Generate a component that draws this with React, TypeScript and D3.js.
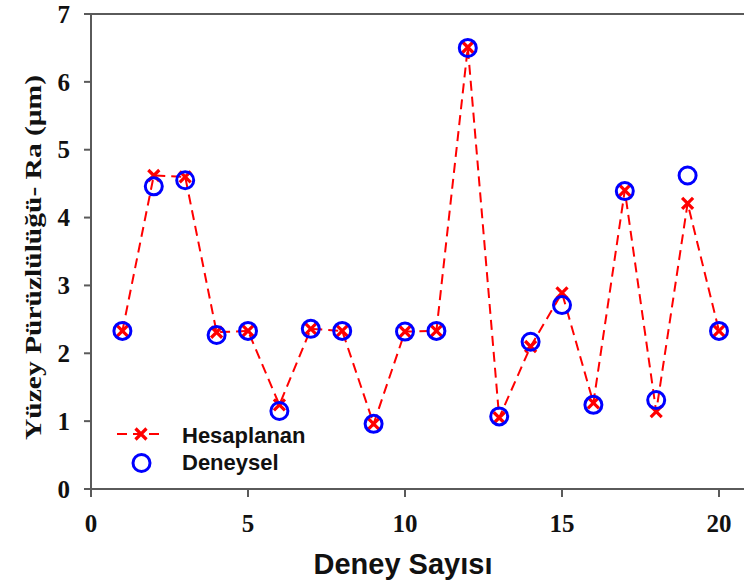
import React from "react";
import * as d3 from "d3";

// deney numaraları ve ölçülen / hesaplanan Ra değerleri
const deneyNo = [1, 2, 3, 4, 5, 6, 7, 8, 9, 10, 11, 12, 13, 14, 15, 16, 17, 18, 19, 20];
const hesaplanan = [2.33, 4.62, 4.6, 2.31, 2.33, 1.24, 2.36, 2.33, 0.96, 2.32, 2.33, 6.51, 1.05, 2.1, 2.89, 1.27, 4.4, 1.14, 4.21, 2.33];
const deneysel = [2.33, 4.46, 4.55, 2.27, 2.33, 1.15, 2.36, 2.33, 0.96, 2.32, 2.33, 6.5, 1.07, 2.17, 2.71, 1.24, 4.39, 1.31, 4.62, 2.33];
const xTicks = [0, 5, 10, 15, 20];
const yTicks = [0, 1, 2, 3, 4, 5, 6, 7];

const W = 744;
const H = 586;
const margin = { left: 91, top: 14, bottom: 489 };

const axisColor = "#5a5a5a";
const serif = "'Liberation Serif', 'Times New Roman', serif";
const sans = "'Liberation Sans', Arial, sans-serif";

const App: React.FC = () => {
  const x = d3.scaleLinear().domain([0, 20]).range([margin.left, 719]);
  const y = d3.scaleLinear().domain([0, 7]).range([margin.bottom, margin.top]);

  const line = d3
    .line<number>()
    .x((_, i) => x(deneyNo[i]))
    .y((d) => y(d));

  const cross = (cx: number, cy: number, s: number, key: string | number) => (
    <path
      key={key}
      d={`M${cx - s},${cy - s}L${cx + s},${cy + s}M${cx - s},${cy + s}L${cx + s},${cy - s}`}
      stroke="#ff0000"
      strokeWidth={3.2}
      fill="none"
    />
  );

  return (
    <svg
      width={W}
      height={H}
      style={{ position: "absolute", left: 0, top: 0, background: "#fff" }}
    >
      {/* eksenler */}
      <line x1={margin.left} x2={W} y1={margin.top} y2={margin.top} stroke={axisColor} strokeWidth={2} />
      <line x1={margin.left} x2={W} y1={margin.bottom} y2={margin.bottom} stroke={axisColor} strokeWidth={2} />
      <line x1={margin.left} x2={margin.left} y1={margin.top} y2={margin.bottom} stroke={axisColor} strokeWidth={2} />

      {yTicks.map((t) => (
        <g key={"y" + t}>
          <line x1={margin.left - 7} x2={margin.left} y1={y(t)} y2={y(t)} stroke={axisColor} strokeWidth={2} />
          <text
            x={margin.left - 21}
            y={y(t)}
            dy="0.35em"
            textAnchor="end"
            fontFamily={serif}
            fontWeight="bold"
            fontSize={25}
            fill="#111"
          >
            {t}
          </text>
        </g>
      ))}

      {xTicks.map((t) => (
        <g key={"x" + t}>
          <line x1={x(t)} x2={x(t)} y1={margin.bottom} y2={margin.bottom + 8} stroke={axisColor} strokeWidth={2} />
          <text
            x={x(t)}
            y={532}
            textAnchor="middle"
            fontFamily={serif}
            fontWeight="bold"
            fontSize={25}
            fill="#111"
          >
            {t}
          </text>
        </g>
      ))}

      {/* eksen başlıkları */}
      <text
        x={403}
        y={574}
        textAnchor="middle"
        fontFamily={sans}
        fontWeight="bold"
        fontSize={29}
        fill="#111"
      >
        Deney Sayısı
      </text>
      <text
        transform={`translate(41, 440) rotate(-90)`}
        textAnchor="start"
        fontFamily={serif}
        fontWeight="bold"
        fontSize={23}
        textLength={365}
        lengthAdjust="spacingAndGlyphs"
        fill="#111"
      >
        Yüzey Pürüzlülüğü- Ra (μm)
      </text>

      {/* hesaplanan: kesikli çizgi + çarpı */}
      <path
        d={line(hesaplanan) as string}
        fill="none"
        stroke="#ff0000"
        strokeWidth={2}
        strokeDasharray="10,6"
      />
      {hesaplanan.map((v, i) => cross(x(deneyNo[i]), y(v), 5.5, "c" + i))}

      {/* deneysel: daireler */}
      {deneysel.map((v, i) => (
        <circle
          key={"d" + i}
          cx={x(deneyNo[i])}
          cy={y(v)}
          r={8.5}
          fill="none"
          stroke="#0000ff"
          strokeWidth={3}
        />
      ))}

      {/* lejant */}
      <line x1={115} x2={163} y1={434} y2={434} stroke="#ff0000" strokeWidth={2} strokeDasharray="10,6" strokeDashoffset={-2} />
      {cross(141, 434, 5.5, "leg")}
      <text x={182} y={443} fontFamily={sans} fontWeight="bold" fontSize={22} fill="#111">
        Hesaplanan
      </text>
      <circle cx={141.5} cy={463} r={8.5} fill="none" stroke="#0000ff" strokeWidth={3} />
      <text x={182} y={470} fontFamily={sans} fontWeight="bold" fontSize={22} fill="#111">
        Deneysel
      </text>
    </svg>
  );
};

export default App;
